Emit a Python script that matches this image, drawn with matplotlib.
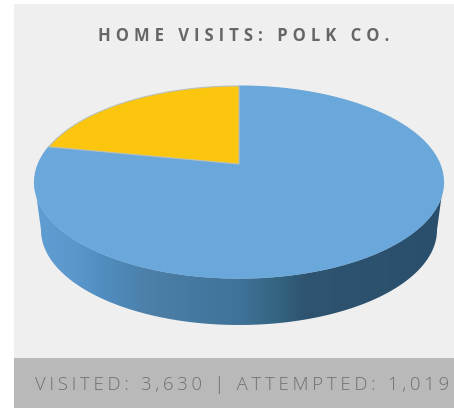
import numpy as np
import matplotlib
matplotlib.use("Agg")
import matplotlib.pyplot as plt
from matplotlib.transforms import Transform, Affine2D
from matplotlib.path import Path
from matplotlib.patches import PathPatch, Rectangle
from matplotlib.colors import LinearSegmentedColormap

categories = ["Visited", "Attempted"]
visits = [3630, 1019]
slice_colors = ["#6aa7da", "#fcc60e"]
title = "HOME VISITS: POLK CO."
footer = "VISITED: 3,630 | ATTEMPTED: 1,019"

W, H = 454, 408
cx, ytop, yapex, ybot = 239.0, 86.0, 164.0, 278.0
# perspective of the tilted disc: maps the unit circle on to the top ellipse
c = (ytop + ybot - 2 * yapex) / (ybot - ytop)
a = ytop * (1 + c) - yapex
k = 200.8


class Tilt(Transform):
    input_dims = output_dims = 2

    def transform_non_affine(self, xy):
        xy = np.asarray(xy, float)
        w = c * xy[:, 1] + 1
        return np.column_stack((cx + k * xy[:, 0] / w, (a * xy[:, 1] + yapex) / w))

    def transform_path_non_affine(self, path):
        big = path.transformed(Affine2D().scale(2000))
        poly = big.to_polygons(closed_only=True)[0] / 2000.0
        return Path(self.transform_non_affine(poly), closed=True)


def spaced(s, sep):
    return sep.join(list(s))


fig = plt.figure(figsize=(W / 100, H / 100), dpi=100, facecolor="white")
ax = fig.add_axes([0, 0, 1, 1])
ax.axis("off")

wedges, _ = ax.pie(visits, colors=slice_colors, startangle=90, counterclock=False,
                   wedgeprops=dict(linewidth=0.8, edgecolor="#b9c0b8"))
ax.set_aspect("auto")
ax.set_xlim(0, W)
ax.set_ylim(H, 0)
ax.axis("off")

ax.add_patch(Rectangle((14, 4), W - 14, 354, fc="#efefef", ec="none", zorder=0))
ax.add_patch(Rectangle((14, 358), W - 14, 50, fc="#b9b9b9", ec="none", zorder=0))

# side wall
ex, ey, ecy = 204.5, 96.0, 182.0
bx, by, bcy = 198.0, 95.0, 230.0
th = np.linspace(0, np.pi, 200)
lower = np.column_stack((cx - bx * np.cos(th), bcy + by * np.sin(th)))
verts = np.vstack(([[cx - ex, ecy]], lower, [[cx + ex, ecy]], [[cx - ex, ecy]]))
wall_patch = PathPatch(Path(verts, closed=True), fc="none", ec="none", transform=ax.transData)
ax.add_patch(wall_patch)
cmap = LinearSegmentedColormap.from_list("wall", [
    (0.00, "#5f9dd2"), (0.10, "#5b97cb"), (0.16, "#508ec1"), (0.28, "#4d7fa8"),
    (0.50, "#3f7399"), (0.60, "#33637f"), (0.66, "#2f5470"), (1.00, "#2a4f6c")])
im = ax.imshow(np.linspace(0, 1, 256)[None, :], extent=(cx - ex, cx + ex, 330, 180),
               cmap=cmap, aspect="auto", zorder=1)
im.set_clip_path(wall_patch)
ax.set_xlim(0, W)
ax.set_ylim(H, 0)

# rim highlight on the front edge of the top
t2 = np.linspace(0, np.pi, 200)
ax.plot(cx - ex * np.cos(t2), ecy + ey * np.sin(t2), color="#a6cdea", lw=1.0, zorder=1.5)

tilt = Tilt() + ax.transData
for w_ in wedges:
    w_.set_transform(tilt)
    w_.set_zorder(2)
    w_.set_clip_on(False)
wedges[0].set_edgecolor("#6aa7da")

fam = ["Open Sans", "DejaVu Sans"]
ax.text(243.5, 36, spaced(title, "\u2009\u200a"), ha="center", va="center", color="#666666",
        fontsize=12, fontweight="bold", family=fam, zorder=3)
ax.text(242.5, 385, spaced(footer, "\u2009"), ha="center", va="center", color="#707070",
        fontsize=13.3, fontweight="light", family=fam, zorder=3)

fig.savefig("out.png", dpi=100, facecolor="white")
